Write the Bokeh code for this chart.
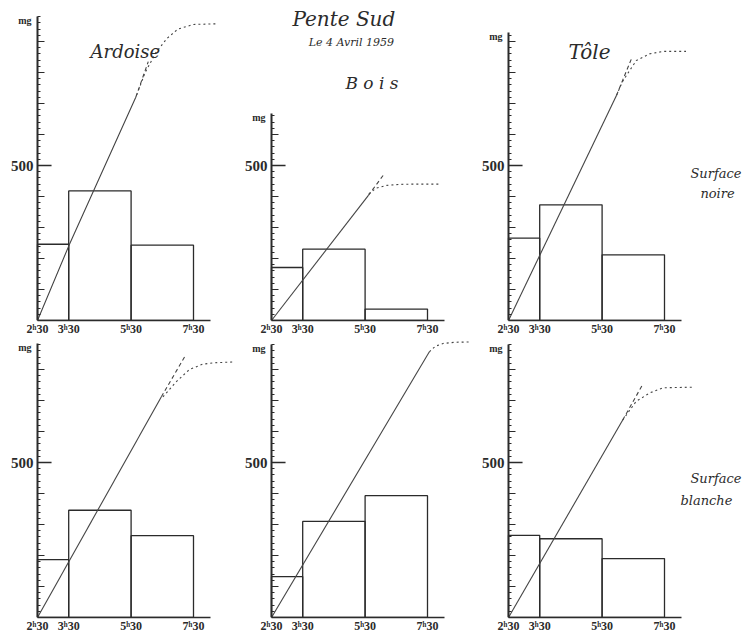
from bokeh.plotting import figure
from bokeh.models import Range1d, FixedTicker, Label
from bokeh.layouts import row, column
from bokeh.embed import file_html
from bokeh.resources import INLINE

# ---------------- data ----------------
bar_left = [2.5, 3.5, 5.5]
bar_right = [3.5, 5.5, 7.5]
x_ticks = [2.5, 3.5, 5.5, 7.5]
x_tick_labels = ["2ʰ30", "3ʰ30", "5ʰ30", "7ʰ30"]
y_label_value = 500
y_unit = "mg"

# Surface noire
ardoise_noire_bars = [246, 418, 243]
ardoise_noire_solid_x = [2.5, 3.5, 5.65]
ardoise_noire_solid_y = [0, 240, 720]
ardoise_noire_dash_x = [5.65, 6.05]
ardoise_noire_dash_y = [720, 835]
ardoise_noire_dot_x = [5.68, 5.95, 6.3, 6.65, 7.0, 7.5, 8.25]
ardoise_noire_dot_y = [728, 800, 865, 910, 940, 955, 957]
ardoise_noire_axis_top = 980

bois_noire_bars = [171, 230, 37]
bois_noire_solid_x = [2.5, 5.6]
bois_noire_solid_y = [0, 403]
bois_noire_dash_x = [5.6, 6.13]
bois_noire_dash_y = [403, 475]
bois_noire_dot_x = [5.62, 5.85, 6.2, 6.6, 7.0, 7.87]
bois_noire_dot_y = [408, 427, 436, 439, 440, 440]
bois_noire_axis_top = 667

tole_noire_bars = [266, 373, 212]
tole_noire_solid_x = [2.5, 5.96]
tole_noire_solid_y = [0, 726]
tole_noire_dash_x = [5.96, 6.44]
tole_noire_dash_y = [726, 844]
tole_noire_dot_x = [5.96, 6.15, 6.38, 6.6, 7.02, 7.45, 8.19]
tole_noire_dot_y = [726, 770, 806, 839, 860, 868, 868]
tole_noire_axis_top = 930

# Surface blanche
ardoise_blanche_bars = [187, 346, 264]
ardoise_blanche_solid_x = [2.5, 6.47]
ardoise_blanche_solid_y = [0, 712]
ardoise_blanche_dash_x = [6.47, 7.24]
ardoise_blanche_dash_y = [712, 845]
ardoise_blanche_dot_x = [6.52, 6.94, 7.37, 7.79, 8.2, 8.74]
ardoise_blanche_dot_y = [712, 760, 800, 817, 822, 824]
ardoise_blanche_axis_top = 885

bois_blanche_bars = [132, 310, 393]
bois_blanche_solid_x = [2.5, 7.56]
bois_blanche_solid_y = [0, 857]
bois_blanche_dash_x = []
bois_blanche_dash_y = []
bois_blanche_dot_x = [7.56, 7.75, 8.0, 8.4, 9.0]
bois_blanche_dot_y = [857, 875, 884, 888, 889]
bois_blanche_axis_top = 882

tole_blanche_bars = [265, 254, 190]
tole_blanche_solid_x = [2.5, 6.16]
tole_blanche_solid_y = [0, 637]
tole_blanche_dash_x = [6.16, 6.78]
tole_blanche_dash_y = [637, 748]
tole_blanche_dot_x = [6.16, 6.59, 7.02, 7.45, 8.41]
tole_blanche_dot_y = [637, 697, 724, 741, 743]
tole_blanche_axis_top = 882

# ---------------- layout ----------------
PX_PER_H = 31.2
PX_PER_MG = 0.31
LB = 4          # left border of each figure
ORIGIN = 37     # pixel position of the y axis inside each figure
BB = 19
COL_W = [234, 237, 280]
ROW_H = [339, 297]
INK = "#2b2b2b"
SERIF = "Liberation Serif"
HAND = "DejaVu Serif"


def make_panel(width, height, bars, sx, sy, dx, dy, ox, oy, axis_top):
    x_start = 2.5 - (ORIGIN - LB) / PX_PER_H
    x_end = x_start + (width - LB) / PX_PER_H
    y_end = (height - BB) / PX_PER_MG
    p = figure(width=width, height=height,
               x_range=Range1d(x_start, x_end), y_range=Range1d(0, y_end),
               output_backend="svg", toolbar_location=None,
               min_border_left=LB, min_border_right=0, min_border_top=0,
               min_border_bottom=BB, outline_line_color=None,
               background_fill_color="white", border_fill_color="white")
    p.grid.visible = False

    # x axis
    xa = p.xaxis[0]
    xa.ticker = FixedTicker(ticks=x_ticks)
    xa.major_label_overrides = {t: l for t, l in zip(x_ticks, x_tick_labels)}
    xa.major_tick_in = 0
    xa.major_tick_out = 0
    xa.minor_tick_in = 0
    xa.minor_tick_out = 0
    xa.major_label_standoff = 1
    xa.major_label_text_font = SERIF
    xa.major_label_text_font_style = "bold"
    xa.major_label_text_font_size = "12px"
    xa.major_label_text_color = INK
    xa.axis_line_color = INK
    xa.axis_line_width = 1.5
    xa.bounds = (2.5, 8.05)

    # y axis, drawn at the 2h30 origin
    ya = p.yaxis[0]
    ya.fixed_location = 2.5
    major = list(range(100, axis_top + 1, 100))
    minor = list(range(20, axis_top + 1, 20))
    ya.ticker = FixedTicker(ticks=major, minor_ticks=minor)
    ya.major_label_overrides = {t: "" for t in major}
    ya.major_label_standoff = 0
    ya.major_tick_in = 7
    ya.major_tick_out = 0
    ya.minor_tick_in = 3
    ya.minor_tick_out = 0
    ya.major_tick_line_color = INK
    ya.minor_tick_line_color = INK
    ya.axis_line_color = INK
    ya.axis_line_width = 2
    ya.bounds = (0, axis_top)

    # long 500 tick and its label
    p.segment(x0=[2.5], y0=[y_label_value], x1=[2.95], y1=[y_label_value],
              line_color=INK, line_width=1.5)
    p.add_layout(Label(x=2.5, y=y_label_value, text=str(y_label_value), x_offset=-4,
                       text_align="right", text_baseline="middle",
                       text_font=SERIF, text_font_style="bold",
                       text_font_size="15px", text_color=INK))

    # bars
    p.quad(left=bar_left, right=bar_right, bottom=[0, 0, 0], top=bars,
           fill_color=None, line_color=INK, line_width=1.3)

    # curves
    p.line(sx, sy, line_color="#444444", line_width=1.1)
    if dx:
        p.line(dx, dy, line_color="#444444", line_width=1.1, line_dash="4 3")
    p.line(ox, oy, line_color="#444444", line_width=1.1, line_dash="2 3")

    # mg unit
    p.add_layout(Label(x=2.5, y=axis_top, text=y_unit, x_offset=-6, y_offset=-4,
                       text_align="right", text_baseline="middle",
                       text_font=SERIF, text_font_style="bold",
                       text_font_size="10px", text_color=INK))
    return p


def lbl(p, x, y, text, size, align="left"):
    p.add_layout(Label(x=x, y=y, text=text, text_align=align,
                       text_baseline="middle", text_font=HAND,
                       text_font_style="italic", text_font_size=size,
                       text_color=INK))


p1 = make_panel(COL_W[0], ROW_H[0], ardoise_noire_bars, ardoise_noire_solid_x, ardoise_noire_solid_y,
                ardoise_noire_dash_x, ardoise_noire_dash_y, ardoise_noire_dot_x, ardoise_noire_dot_y,
                ardoise_noire_axis_top)
p2 = make_panel(COL_W[1], ROW_H[0], bois_noire_bars, bois_noire_solid_x, bois_noire_solid_y,
                bois_noire_dash_x, bois_noire_dash_y, bois_noire_dot_x, bois_noire_dot_y,
                bois_noire_axis_top)
p3 = make_panel(COL_W[2], ROW_H[0], tole_noire_bars, tole_noire_solid_x, tole_noire_solid_y,
                tole_noire_dash_x, tole_noire_dash_y, tole_noire_dot_x, tole_noire_dot_y,
                tole_noire_axis_top)
p4 = make_panel(COL_W[0], ROW_H[1], ardoise_blanche_bars, ardoise_blanche_solid_x, ardoise_blanche_solid_y,
                ardoise_blanche_dash_x, ardoise_blanche_dash_y, ardoise_blanche_dot_x, ardoise_blanche_dot_y,
                ardoise_blanche_axis_top)
p5 = make_panel(COL_W[1], ROW_H[1], bois_blanche_bars, bois_blanche_solid_x, bois_blanche_solid_y,
                bois_blanche_dash_x, bois_blanche_dash_y, bois_blanche_dot_x, bois_blanche_dot_y,
                bois_blanche_axis_top)
p6 = make_panel(COL_W[2], ROW_H[1], tole_blanche_bars, tole_blanche_solid_x, tole_blanche_solid_y,
                tole_blanche_dash_x, tole_blanche_dash_y, tole_blanche_dot_x, tole_blanche_dot_y,
                tole_blanche_axis_top)

# titles (positions in each panel's data units)
lbl(p1, 4.2, 868, "Ardoise", "18px")
lbl(p2, 3.17, 974, "Pente  Sud", "20px")
lbl(p2, 3.69, 897, "Le 4 Avril 1959", "11px")
lbl(p2, 4.87, 765, "B o i s", "17px")
lbl(p3, 4.42, 865, "Tôle", "20px")
lbl(p3, 8.33, 474, "Surface", "13px")
lbl(p3, 8.65, 410, "noire", "13px")
lbl(p6, 8.33, 448, "Surface", "13px")
lbl(p6, 8.01, 377, "blanche", "13px")

layout = column(row(p1, p2, p3), row(p4, p5, p6))
open("out.html", "w").write(file_html(layout, INLINE))
